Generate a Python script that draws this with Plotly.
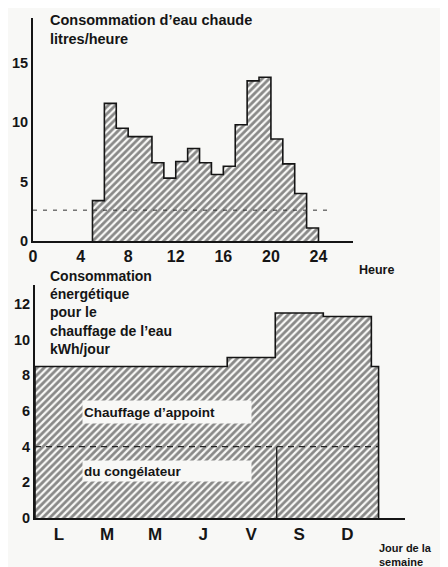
import plotly.graph_objects as go

# ---- data: hot water consumption (litres/hour), one bin per hour ----
hours = list(range(5, 24))  # start hour of each bin
water_lph = [3.4, 11.6, 9.5, 8.8, 8.8, 6.6, 5.3, 6.7, 7.8, 6.6,
             5.6, 6.3, 9.8, 13.5, 13.8, 8.6, 6.5, 4.0, 1.1]
water_mean_lph = 2.6
hour_ticks = [0, 4, 8, 12, 16, 20, 24]
water_y_ticks = [0, 5, 10, 15]

# ---- data: energy consumption for water heating (kWh/day) ----
days = ["L", "M", "M", "J", "V", "S", "D"]
energy_kwh = [8.5, 8.5, 8.5, 8.5, 9.0, 11.5, 11.3]
tail_kwh = 8.5
tail_width = 0.15
freezer_kwh = 4.0
weekend_start = 5
energy_y_ticks = [0, 2, 4, 6, 8, 10, 12]

# page body has an 8px margin: the figure is drawn from (8, 8) in the window
OFF = 8
W, H = 448 - OFF, 567 - OFF
BG = "#f8f8f6"
INK = "#151515"
FONT = "Liberation Sans"


def px(x):
    return (x - OFF) / W


def py(y):
    return 1 - (y - OFF) / H


fig = go.Figure()

pattern = dict(shape="/", size=5, solidity=0.55, fgcolor="#1a1a1a", bgcolor=BG)

# top step histogram
sx, sy = [hours[0], hours[0]], [0, water_lph[0]]
for i, v in enumerate(water_lph):
    sx += [hours[i] + 1]
    sy += [v]
    if i + 1 < len(water_lph):
        sx += [hours[i] + 1]
        sy += [water_lph[i + 1]]
sx += [hours[-1] + 1]
sy += [0]

fig.add_trace(go.Scatter(
    x=sx, y=sy, mode="lines", line=dict(color=INK, width=1.6),
    fill="tozeroy", fillcolor="rgba(0,0,0,0)", fillpattern=pattern,
    xaxis="x", yaxis="y", showlegend=False, hoverinfo="skip"))

fig.add_trace(go.Scatter(
    x=[0, 25], y=[water_mean_lph, water_mean_lph], mode="lines",
    line=dict(color="#333", width=1, dash="4px,6px"),
    xaxis="x", yaxis="y", showlegend=False, hoverinfo="skip"))

# bottom step chart
bx, by = [0, 0], [0, energy_kwh[0]]
levels = energy_kwh + [tail_kwh]
for i, v in enumerate(energy_kwh):
    bx += [i + 1, i + 1]
    by += [v, levels[i + 1]]
end_x = len(energy_kwh) + tail_width
bx += [end_x, end_x]
by += [tail_kwh, 0]

fig.add_trace(go.Scatter(
    x=bx, y=by, mode="lines", line=dict(color=INK, width=1.6),
    fill="tozeroy", fillcolor="rgba(0,0,0,0)", fillpattern=pattern,
    xaxis="x2", yaxis="y2", showlegend=False, hoverinfo="skip"))

fig.add_trace(go.Scatter(
    x=[0, end_x], y=[freezer_kwh, freezer_kwh], mode="lines",
    line=dict(color="#222", width=1.2, dash="6px,5px"),
    xaxis="x2", yaxis="y2", showlegend=False, hoverinfo="skip"))

fig.add_trace(go.Scatter(
    x=[weekend_start + 0.03, weekend_start + 0.03], y=[0, freezer_kwh], mode="lines",
    line=dict(color="#222", width=1.4),
    xaxis="x2", yaxis="y2", showlegend=False, hoverinfo="skip"))

axis_common = dict(showline=True, linecolor=INK, linewidth=2, showgrid=False,
                   zeroline=False, ticks="", fixedrange=True, automargin=False)

fig.update_layout(
    width=W, height=H,
    margin=dict(l=0, r=0, t=0, b=0),
    paper_bgcolor=BG, plot_bgcolor="rgba(0,0,0,0)",
    font=dict(family=FONT, color=INK),
    xaxis=dict(domain=[px(33), px(353)], range=[0, 26.9], anchor="y",
               tickvals=hour_ticks, ticktext=[str(t) for t in hour_ticks],
               tickfont=dict(size=16, weight="bold"), **axis_common),
    yaxis=dict(domain=[py(241), py(18)], range=[0, 18.8], anchor="x",
               tickvals=water_y_ticks, tickfont=dict(size=14.5, weight="bold"),
               ticklabelstandoff=0, **axis_common),
    xaxis2=dict(domain=[px(35), px(405)], range=[0, 7.7], anchor="y2",
                tickvals=[i + 0.5 for i in range(len(days))], ticktext=days,
                tickfont=dict(size=17, weight="bold"), **axis_common),
    yaxis2=dict(domain=[py(518), py(285)], range=[0, 13.07], anchor="x2",
                tickvals=energy_y_ticks, tickfont=dict(size=14.5, weight="bold"),
                ticklabelstandoff=0, **axis_common),
)

ann = []
ann.append(dict(text="Consommation d’eau chaude<br>litres/heure", x=px(48), y=py(10),
                xref="paper", yref="paper", xanchor="left", yanchor="top",
                align="left", showarrow=False, font=dict(size=14.5, weight="bold")))
ann.append(dict(text="Heure", x=px(357), y=py(270), xref="paper", yref="paper",
                xanchor="left", yanchor="middle", showarrow=False,
                font=dict(size=12.5, weight="bold")))
ann.append(dict(text="Consommation<br>énergétique<br>pour le<br>chauffage de l’eau<br>kWh/jour",
                x=px(48), y=py(266), xref="paper", yref="paper", xanchor="left",
                yanchor="top", align="left", showarrow=False,
                font=dict(size=14, weight="bold")))
ann.append(dict(text="Jour de la<br>semaine", x=px(377), y=py(540), xref="paper",
                yref="paper", xanchor="left", yanchor="top", align="left",
                showarrow=False, font=dict(size=11, weight="bold")))
ann.append(dict(text="Chauffage d’appoint", x=px(82), y=py(412), xref="paper",
                yref="paper", xanchor="left", yanchor="middle", align="left",
                width=166, height=20, bgcolor=BG, showarrow=False,
                font=dict(size=13.5, weight="bold")))
ann.append(dict(text="du congélateur", x=px(82), y=py(471), xref="paper",
                yref="paper", xanchor="left", yanchor="middle", align="left",
                width=166, height=18, bgcolor=BG, showarrow=False,
                font=dict(size=13.5, weight="bold")))
fig.update_layout(annotations=ann)

fig.write_html("out.html")
